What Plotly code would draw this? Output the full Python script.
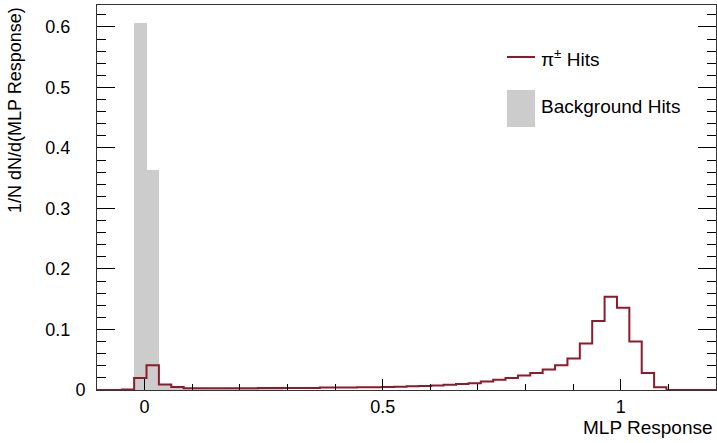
import numpy as np
import plotly.graph_objects as go

# Binning of the MLP response histograms
X_MIN, X_MAX, N_BINS = -0.1, 1.2, 50

# Normalised bin contents (fraction of hits per bin)
pion_hits = [
    0.0, 0.0, 0.001, 0.020, 0.041, 0.009, 0.005, 0.003, 0.003, 0.003,
    0.003, 0.003, 0.003, 0.0033, 0.0033, 0.0033, 0.0033, 0.0035, 0.004, 0.004,
    0.004, 0.0045, 0.0045, 0.005, 0.0055, 0.006, 0.0068, 0.0076, 0.0086, 0.010,
    0.011, 0.014, 0.017, 0.020, 0.024, 0.028, 0.034, 0.041, 0.052, 0.077,
    0.114, 0.154, 0.136, 0.080, 0.028, 0.0045, 0.0, 0.0, 0.0, 0.0,
]
background_hits = [
    0.0, 0.0, 0.0, 0.606, 0.364, 0.008, 0.003, 0.001, 0.001, 0.001,
    0.0005, 0.0005, 0.0005, 0.0005, 0.0005, 0.0, 0.0, 0.0, 0.0, 0.0,
    0.0, 0.0, 0.0, 0.0, 0.0, 0.0, 0.0, 0.0, 0.0, 0.0,
    0.0, 0.0, 0.0, 0.0, 0.0, 0.0, 0.0, 0.0, 0.0, 0.0,
    0.0, 0.0, 0.0, 0.0, 0.0, 0.0, 0.0, 0.0, 0.0, 0.0,
]

x_ticks = [0, 0.5, 1]
x_tick_text = ["0", "0.5", "1"]
y_ticks = [0, 0.1, 0.2, 0.3, 0.4, 0.5, 0.6]
y_tick_text = ["0", "0.1", "0.2", "0.3", "0.4", "0.5", "0.6"]

series_names = ["π<sup>±</sup> Hits", "Background Hits"]

edges = np.linspace(X_MIN, X_MAX, N_BINS + 1)
width = edges[1] - edges[0]
centers = 0.5 * (edges[:-1] + edges[1:])

RED = "#8e1b2d"
GREY = "#cccccc"
FONT = "Liberation Sans, Arial, Helvetica, sans-serif"
FS = 18
FS_BIG = 19
NB = "\u00a0"

fig = go.Figure()

# Background: filled grey histogram
fig.add_trace(go.Bar(
    x=centers, y=background_hits, width=width,
    marker=dict(color=GREY, line=dict(width=0)),
    showlegend=False, hoverinfo="skip",
))

# Pion hits: outlined step histogram
fig.add_trace(go.Scatter(
    x=list(edges), y=list(pion_hits) + [pion_hits[-1]],
    mode="lines", line=dict(color=RED, width=2, shape="hv"),
    showlegend=False, hoverinfo="skip",
))

y_max = max(background_hits) * 1.05

fig.update_layout(
    width=717, height=443,
    margin=dict(l=97, r=1, t=5, b=53),
    paper_bgcolor="white", plot_bgcolor="white",
    font=dict(family=FONT, size=FS, color="black"),
    bargap=0,
    xaxis=dict(
        range=[X_MIN, X_MAX], tickvals=x_ticks, ticktext=x_tick_text,
        ticks="inside", ticklen=11, tickcolor="black", tickwidth=1,
        minor=dict(dtick=0.1, tick0=0, ticks="inside", ticklen=6,
                   tickcolor="black", tickwidth=1),
        showline=True, linecolor="#333333", linewidth=1, mirror=True,
        showgrid=False, zeroline=False, ticklabelstandoff=0,
        tickfont=dict(size=FS),
    ),
    yaxis=dict(
        range=[0, y_max], tickvals=y_ticks,
        ticktext=[t if t == "0" else t + NB * 3 for t in y_tick_text],
        ticks="inside", ticklen=18, tickcolor="black", tickwidth=1,
        minor=dict(dtick=0.02, tick0=0, ticks="inside", ticklen=9,
                   tickcolor="black", tickwidth=1),
        showline=True, linecolor="#333333", linewidth=1, mirror="ticks",
        showgrid=False, zeroline=False, ticklabelstandoff=7,
        tickfont=dict(size=FS),
    ),
)

# Axis titles, right-aligned at the axis ends
fig.add_annotation(
    text="MLP Response", xref="paper", yref="paper", x=1, y=0,
    xanchor="right", yanchor="top", yshift=-25, xshift=-1,
    showarrow=False, font=dict(size=FS_BIG),
)
fig.add_annotation(
    text="1/N dN/d(MLP Response)", xref="paper", yref="paper", x=0, y=1,
    xanchor="right", yanchor="top", xshift=-70, yshift=0, textangle=-90,
    showarrow=False, font=dict(size=FS),
)

# Legend
fig.add_shape(type="line", xref="paper", yref="paper",
              x0=(507 - 97) / 619, x1=(535 - 97) / 619,
              y0=(390 - 57) / 385, y1=(390 - 57) / 385,
              line=dict(color=RED, width=2))
fig.add_shape(type="rect", xref="paper", yref="paper",
              x0=(507 - 97) / 619, x1=(535 - 97) / 619,
              y0=(390 - 127) / 385, y1=(390 - 90) / 385,
              fillcolor=GREY, line=dict(width=0))
fig.add_annotation(text=series_names[0], xref="paper", yref="paper",
                   x=(539 - 97) / 619, y=(390 - 58) / 385,
                   xanchor="left", yanchor="middle", showarrow=False,
                   font=dict(size=FS_BIG))
fig.add_annotation(text=series_names[1], xref="paper", yref="paper",
                   x=(539 - 97) / 619, y=(390 - 107) / 385,
                   xanchor="left", yanchor="middle", showarrow=False,
                   font=dict(size=FS_BIG))

fig.write_html("out.html")
